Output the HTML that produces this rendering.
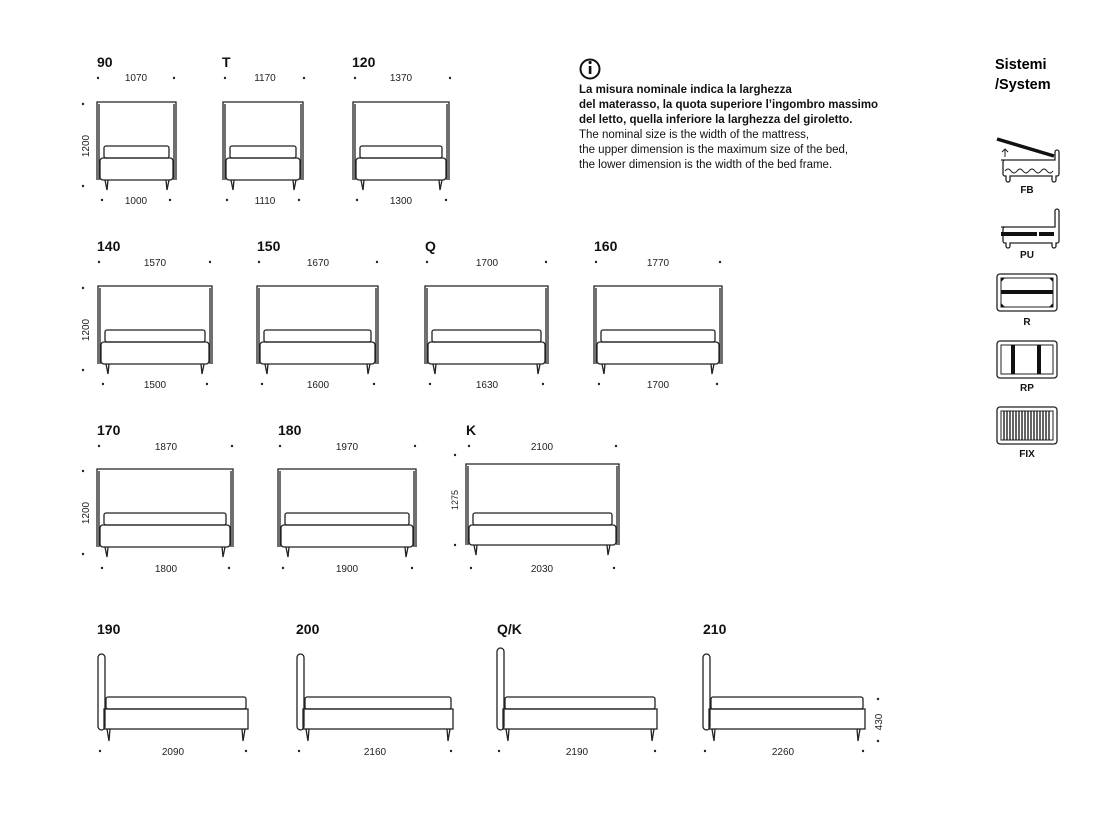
<!DOCTYPE html>
<html><head><meta charset="utf-8">
<style>
html,body{margin:0;padding:0;background:#fff;}
svg{display:block;font-family:"Liberation Sans",sans-serif;}
.s{fill:none;stroke:#222;stroke-width:1.3;}
.l{font-size:14px;font-weight:bold;fill:#111;}
.d{font-size:10px;fill:#222;text-anchor:middle;}
.p{fill:#222;}
.t{font-size:11.5px;fill:#111;}
.tb{font-size:11.5px;fill:#111;font-weight:bold;}
.ic{font-size:10px;font-weight:bold;fill:#111;text-anchor:middle;}
</style></head><body>
<svg width="1103" height="814" viewBox="0 0 1103 814" xmlns="http://www.w3.org/2000/svg">
<defs>
<g id="dot"><circle r="1.2" class="p"/></g>
</defs>

<!-- ROW 1 -->
<text class="l" x="97" y="67">90</text>
<text class="l" x="222" y="67">T</text>
<text class="l" x="352" y="67">120</text>
<text class="l" x="97" y="251">140</text>
<text class="l" x="257" y="251">150</text>
<text class="l" x="425" y="251">Q</text>
<text class="l" x="594" y="251">160</text>
<text class="l" x="97" y="435">170</text>
<text class="l" x="278" y="435">180</text>
<text class="l" x="466" y="435">K</text>
<text class="l" x="97" y="634">190</text>
<text class="l" x="296" y="634">200</text>
<text class="l" x="497" y="634">Q/K</text>
<text class="l" x="703" y="634">210</text>

<!-- front beds: headboard, base, mattress, legs -->
<!-- 90 -->
<g>
<path class="s" d="M97 180V102H176V180M99 180V104M174 180V104"/>
<rect class="s" x="100" y="158" width="73" height="22" rx="3"/>
<rect class="s" x="104" y="146" width="65" height="12" rx="2"/>
<path class="s" d="M105 180l2 10l1 -10M166 180l1 10l2 -10"/>
</g>
<!-- T -->
<g>
<path class="s" d="M223 180V102H303V180M225 180V104M301 180V104"/>
<rect class="s" x="226" y="158" width="74" height="22" rx="3"/>
<rect class="s" x="230" y="146" width="66" height="12" rx="2"/>
<path class="s" d="M231 180l2 10l1 -10M293 180l1 10l2 -10"/>
</g>
<!-- 120 -->
<g>
<path class="s" d="M353 180V102H449V180M355 180V104M447 180V104"/>
<rect class="s" x="356" y="158" width="90" height="22" rx="3"/>
<rect class="s" x="360" y="146" width="82" height="12" rx="2"/>
<path class="s" d="M361 180l2 10l1 -10M439 180l1 10l2 -10"/>
</g>
<!-- 140 -->
<g>
<path class="s" d="M98 364V286H212V364M100 364V288M210 364V288"/>
<rect class="s" x="101" y="342" width="108" height="22" rx="3"/>
<rect class="s" x="105" y="330" width="100" height="12" rx="2"/>
<path class="s" d="M106 364l2 10l1 -10M201 364l1 10l2 -10"/>
</g>
<!-- 150 -->
<g>
<path class="s" d="M257 364V286H378V364M259 364V288M376 364V288"/>
<rect class="s" x="260" y="342" width="115" height="22" rx="3"/>
<rect class="s" x="264" y="330" width="107" height="12" rx="2"/>
<path class="s" d="M265 364l2 10l1 -10M367 364l1 10l2 -10"/>
</g>
<!-- Q -->
<g>
<path class="s" d="M425 364V286H548V364M427 364V288M546 364V288"/>
<rect class="s" x="428" y="342" width="117" height="22" rx="3"/>
<rect class="s" x="432" y="330" width="109" height="12" rx="2"/>
<path class="s" d="M433 364l2 10l1 -10M537 364l1 10l2 -10"/>
</g>
<!-- 160 -->
<g>
<path class="s" d="M594 364V286H722V364M596 364V288M720 364V288"/>
<rect class="s" x="597" y="342" width="122" height="22" rx="3"/>
<rect class="s" x="601" y="330" width="114" height="12" rx="2"/>
<path class="s" d="M602 364l2 10l1 -10M711 364l1 10l2 -10"/>
</g>
<!-- 170 -->
<g>
<path class="s" d="M97 547V469H233V547M99 547V471M231 547V471"/>
<rect class="s" x="100" y="525" width="130" height="22" rx="3"/>
<rect class="s" x="104" y="513" width="122" height="12" rx="2"/>
<path class="s" d="M105 547l2 10l1 -10M222 547l1 10l2 -10"/>
</g>
<!-- 180 -->
<g>
<path class="s" d="M278 547V469H416V547M280 547V471M414 547V471"/>
<rect class="s" x="281" y="525" width="132" height="22" rx="3"/>
<rect class="s" x="285" y="513" width="124" height="12" rx="2"/>
<path class="s" d="M286 547l2 10l1 -10M405 547l1 10l2 -10"/>
</g>
<!-- K -->
<g>
<path class="s" d="M466 545V464H619V545M468 545V466M617 545V466"/>
<rect class="s" x="469" y="525" width="147" height="20" rx="3"/>
<rect class="s" x="473" y="513" width="139" height="12" rx="2"/>
<path class="s" d="M474 545l2 10l1 -10M607 545l1 10l2 -10"/>
</g>

<!-- dims row 1 -->
<text class="d" x="136" y="81">1070</text><use href="#dot" x="98" y="78"/><use href="#dot" x="174" y="78"/>
<text class="d" x="136" y="204">1000</text><use href="#dot" x="102" y="200"/><use href="#dot" x="170" y="200"/>
<text class="d" x="265" y="81">1170</text><use href="#dot" x="225" y="78"/><use href="#dot" x="304" y="78"/>
<text class="d" x="265" y="204">1110</text><use href="#dot" x="227" y="200"/><use href="#dot" x="299" y="200"/>
<text class="d" x="401" y="81">1370</text><use href="#dot" x="355" y="78"/><use href="#dot" x="450" y="78"/>
<text class="d" x="401" y="204">1300</text><use href="#dot" x="357" y="200"/><use href="#dot" x="446" y="200"/>
<use href="#dot" x="83" y="104"/><use href="#dot" x="83" y="186"/>
<text class="d" transform="translate(89,146) rotate(-90)">1200</text>

<!-- dims row 2 -->
<text class="d" x="155" y="266">1570</text><use href="#dot" x="99" y="262"/><use href="#dot" x="210" y="262"/>
<text class="d" x="155" y="388">1500</text><use href="#dot" x="103" y="384"/><use href="#dot" x="207" y="384"/>
<text class="d" x="318" y="266">1670</text><use href="#dot" x="259" y="262"/><use href="#dot" x="377" y="262"/>
<text class="d" x="318" y="388">1600</text><use href="#dot" x="262" y="384"/><use href="#dot" x="374" y="384"/>
<text class="d" x="487" y="266">1700</text><use href="#dot" x="427" y="262"/><use href="#dot" x="546" y="262"/>
<text class="d" x="487" y="388">1630</text><use href="#dot" x="430" y="384"/><use href="#dot" x="543" y="384"/>
<text class="d" x="658" y="266">1770</text><use href="#dot" x="596" y="262"/><use href="#dot" x="720" y="262"/>
<text class="d" x="658" y="388">1700</text><use href="#dot" x="599" y="384"/><use href="#dot" x="717" y="384"/>
<use href="#dot" x="83" y="288"/><use href="#dot" x="83" y="370"/>
<text class="d" transform="translate(89,330) rotate(-90)">1200</text>

<!-- dims row 3 -->
<text class="d" x="166" y="450">1870</text><use href="#dot" x="99" y="446"/><use href="#dot" x="232" y="446"/>
<text class="d" x="166" y="572">1800</text><use href="#dot" x="102" y="568"/><use href="#dot" x="229" y="568"/>
<text class="d" x="347" y="450">1970</text><use href="#dot" x="280" y="446"/><use href="#dot" x="415" y="446"/>
<text class="d" x="347" y="572">1900</text><use href="#dot" x="283" y="568"/><use href="#dot" x="412" y="568"/>
<text class="d" x="542" y="450">2100</text><use href="#dot" x="469" y="446"/><use href="#dot" x="616" y="446"/>
<text class="d" x="542" y="572">2030</text><use href="#dot" x="471" y="568"/><use href="#dot" x="614" y="568"/>
<use href="#dot" x="83" y="471"/><use href="#dot" x="83" y="554"/>
<text class="d" transform="translate(89,513) rotate(-90)">1200</text>
<use href="#dot" x="455" y="455"/><use href="#dot" x="455" y="545"/>
<text class="d" style="font-size:9px" transform="translate(458,500) rotate(-90)">1275</text>

<!-- side views -->
<g>
<rect class="s" x="98" y="654" width="7" height="76" rx="3.5"/>
<rect class="s" x="104" y="709" width="144" height="20"/>
<rect class="s" x="106" y="697" width="140" height="12" rx="2"/>
<path class="s" d="M107 729l2 12l1 -12M242 729l1 12l2 -12"/>
<text class="d" x="173" y="755">2090</text><use href="#dot" x="100" y="751"/><use href="#dot" x="246" y="751"/>
</g>
<g>
<rect class="s" x="297" y="654" width="7" height="76" rx="3.5"/>
<rect class="s" x="303" y="709" width="150" height="20"/>
<rect class="s" x="305" y="697" width="146" height="12" rx="2"/>
<path class="s" d="M306 729l2 12l1 -12M447 729l1 12l2 -12"/>
<text class="d" x="375" y="755">2160</text><use href="#dot" x="299" y="751"/><use href="#dot" x="451" y="751"/>
</g>
<g>
<rect class="s" x="497" y="648" width="7" height="82" rx="3.5"/>
<rect class="s" x="503" y="709" width="154" height="20"/>
<rect class="s" x="505" y="697" width="150" height="12" rx="2"/>
<path class="s" d="M506 729l2 12l1 -12M651 729l1 12l2 -12"/>
<text class="d" x="577" y="755">2190</text><use href="#dot" x="499" y="751"/><use href="#dot" x="655" y="751"/>
</g>
<g>
<rect class="s" x="703" y="654" width="7" height="76" rx="3.5"/>
<rect class="s" x="709" y="709" width="156" height="20"/>
<rect class="s" x="711" y="697" width="152" height="12" rx="2"/>
<path class="s" d="M712 729l2 12l1 -12M857 729l1 12l2 -12"/>
<text class="d" x="783" y="755">2260</text><use href="#dot" x="705" y="751"/><use href="#dot" x="863" y="751"/>
<use href="#dot" x="878" y="699"/><use href="#dot" x="878" y="741"/>
<text class="d" transform="translate(882,722) rotate(-90)">430</text>
</g>

<!-- info -->
<circle cx="590" cy="69" r="9.5" fill="none" stroke="#111" stroke-width="2"/>
<rect x="588.8" y="66" width="2.6" height="8" fill="#111"/><circle cx="590.1" cy="62.5" r="1.6" fill="#111"/>
<text class="tb" x="579" y="93">La misura nominale indica la larghezza</text>
<text class="tb" x="579" y="108">del materasso, la quota superiore l’ingombro massimo</text>
<text class="tb" x="579" y="123">del letto, quella inferiore la larghezza del giroletto.</text>
<text class="t" x="579" y="138">The nominal size is the width of the mattress,</text>
<text class="t" x="579" y="153">the upper dimension is the maximum size of the bed,</text>
<text class="t" x="579" y="168">the lower dimension is the width of the bed frame.</text>

<text x="995" y="69" style="font-size:14.5px;font-weight:bold">Sistemi</text>
<text x="995" y="89" style="font-size:14.5px;font-weight:bold">/System</text>

<!-- FB -->
<g>
<path class="s" d="M1001 160h54v-8a2 2 0 0 1 4 0v22a2 2 0 0 1 -2 2h-1v4a2 2 0 0 1 -4 0v-4h-42v4a2 2 0 0 1 -4 0v-4h-1a2 2 0 0 1 -2 -2v-12a2 2 0 0 1 2 -2z"/>
<path d="M997 139L1054 156" stroke="#111" stroke-width="3.5"/>
<path class="s" d="M1005 171q3 -4 6 0q3 4 6 0q3 -4 6 0q3 4 6 0q3 -4 6 0q3 4 6 0q3 -4 6 0q3 4 6 0" style="stroke-width:1"/>
<path class="s" d="M1005 157v-8M1002 152l3 -3l3 3" style="stroke-width:1"/>
<text class="ic" x="1027" y="193">FB</text>
</g>
<!-- PU -->
<g>
<path class="s" d="M1001 227h54v-16a2 2 0 0 1 4 0v30a2 2 0 0 1 -2 2h-1v3a2 2 0 0 1 -4 0v-3h-42v3a2 2 0 0 1 -4 0v-3h-1a2 2 0 0 1 -2 -2v-12a2 2 0 0 1 2 -2z"/>
<rect x="1001" y="232" width="36" height="4" fill="#111"/><rect x="1039" y="232" width="15" height="4" fill="#111"/>
<text class="ic" x="1027" y="258">PU</text>
</g>
<!-- R -->
<g>
<rect class="s" x="997" y="274" width="60" height="37" rx="3"/>
<rect class="s" x="1001" y="278" width="52" height="29" style="stroke-width:1"/>
<rect x="1001" y="290" width="52" height="4" fill="#111"/>
<path d="M1001 278h4l-4 4zM1053 278h-4l4 4zM1001 307h4l-4 -4zM1053 307h-4l4 -4z" fill="#111"/>
<text class="ic" x="1027" y="325">R</text>
</g>
<!-- RP -->
<g>
<rect class="s" x="997" y="341" width="60" height="37" rx="3"/>
<rect class="s" x="1001" y="345" width="52" height="29" style="stroke-width:1"/>
<rect x="1011" y="345" width="4" height="29" fill="#111"/><rect x="1037" y="345" width="4" height="29" fill="#111"/>
<text class="ic" x="1027" y="391">RP</text>
</g>
<!-- FIX -->
<g>
<rect class="s" x="997" y="407" width="60" height="37" rx="3"/>
<rect class="s" x="1001" y="411" width="52" height="29" style="stroke-width:1"/>
<path d="M1004 411v29M1007 411v29M1010 411v29M1013 411v29M1016 411v29M1019 411v29M1022 411v29M1025 411v29M1028 411v29M1031 411v29M1034 411v29M1037 411v29M1040 411v29M1043 411v29M1046 411v29M1049 411v29" stroke="#111" stroke-width="1.3"/>
<text class="ic" x="1027" y="457">FIX</text>
</g>
</svg>
</body></html>
